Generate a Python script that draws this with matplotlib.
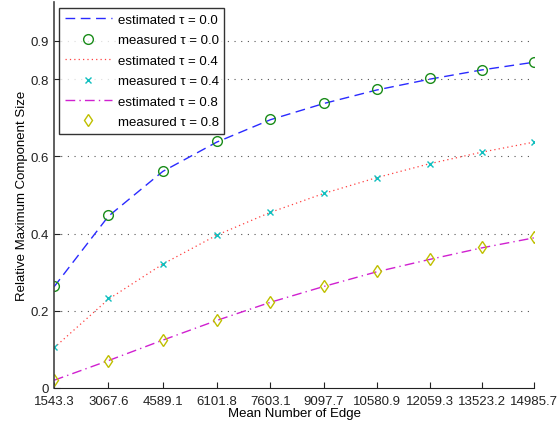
import numpy as np
import matplotlib.pyplot as plt

plt.rcParams["font.family"] = ["Liberation Sans", "DejaVu Sans"]

# x positions (mean number of edges)
edges = [1543.3, 3067.6, 4589.1, 6101.8, 7603.1, 9097.7, 10580.9, 12059.3, 13523.2, 14985.7]
edge_labels = ["1543.3", "3067.6", "4589.1", "6101.8", "7603.1",
               "9097.7", "10580.9", "12059.3", "13523.2", "14985.7"]

# tau = 0.0
est_00 = [0.262, 0.445, 0.561, 0.637, 0.695, 0.737, 0.772, 0.800, 0.824, 0.844]
meas_00 = [0.263, 0.447, 0.562, 0.639, 0.697, 0.739, 0.774, 0.802, 0.825, 0.845]

# tau = 0.4
est_04 = [0.104, 0.230, 0.321, 0.396, 0.455, 0.504, 0.545, 0.581, 0.611, 0.637]
meas_04 = [0.105, 0.232, 0.322, 0.397, 0.456, 0.505, 0.545, 0.581, 0.612, 0.638]

# tau = 0.8
est_08 = [0.020, 0.071, 0.124, 0.175, 0.222, 0.263, 0.301, 0.333, 0.363, 0.389]
meas_08 = [0.020, 0.071, 0.125, 0.176, 0.223, 0.264, 0.302, 0.333, 0.364, 0.390]

y_ticks = [0, 0.2, 0.4, 0.6, 0.8, 0.9]
y_labels = ["0", "0.2", "0.4", "0.6", "0.8", "0.9"]

fig = plt.figure(figsize=(5.59, 4.27), dpi=100)
ax = fig.add_axes([54 / 559, 38 / 427, 480 / 559, 386 / 427])

# grid lines (dotted, horizontal only)
for yt in y_ticks[1:]:
    ax.axhline(yt, color="#555555", linewidth=0.8, linestyle=(0, (1, 5)), zorder=0)

ax.plot(edges, est_00, color="#2a2aff", linewidth=1, dashes=(7, 4),
        label="estimated τ = 0.0")
ax.plot(edges, meas_00, linestyle="none", marker="o", markersize=7,
        markerfacecolor="none", markeredgecolor="#1a8c1a", markeredgewidth=1,
        label="measured τ = 0.0")
ax.plot(edges, est_04, color="#ff4040", linewidth=0.9, dashes=(1, 2.5),
        label="estimated τ = 0.4")
ax.plot(edges, meas_04, linestyle="none", marker="x", markersize=5,
        markeredgecolor="#10bfbf", markeredgewidth=1,
        label="measured τ = 0.4")
ax.plot(edges, est_08, color="#d020d0", linewidth=1, dashes=(7, 3, 1, 3),
        label="estimated τ = 0.8")
ax.plot(edges, meas_08, linestyle="none", marker="d", markersize=6,
        markerfacecolor="none", markeredgecolor="#bfbf00", markeredgewidth=1,
        label="measured τ = 0.8")

ax.set_xlim(edges[0], edges[-1])
ax.set_ylim(0, 1.0)
ax.set_xticks(edges)
ax.set_xticklabels(edge_labels)
ax.set_yticks(y_ticks)
ax.set_yticklabels(y_labels)
ax.tick_params(direction="in", length=4, labelsize=9.5, colors="#222222")
ax.tick_params(axis="x", pad=5)

ax.spines["top"].set_visible(False)
ax.spines["right"].set_visible(False)
ax.spines["left"].set_linewidth(1.2)
ax.spines["left"].set_color("#444444")
ax.spines["bottom"].set_color("#222222")

ax.set_xlabel("Mean Number of Edge", fontsize=9.5, labelpad=0)
ax.set_ylabel("Relative Maximum Component Size", fontsize=9.5, labelpad=2)

leg = ax.legend(loc="upper left", bbox_to_anchor=(0.01, 0.985), fontsize=9.5,
                frameon=True, fancybox=False, edgecolor="black",
                handlelength=3.6, handletextpad=0.4, borderpad=0.45,
                labelspacing=0.62, borderaxespad=0)
leg.get_frame().set_linewidth(1)

fig.savefig("out.png", dpi=100)
